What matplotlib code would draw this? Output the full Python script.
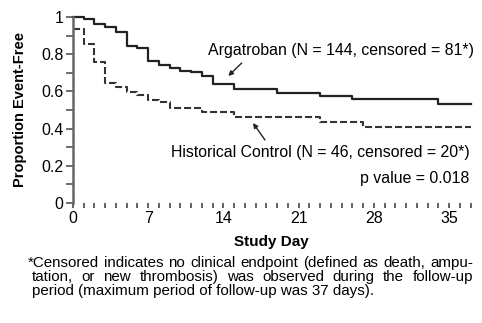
import matplotlib
matplotlib.use("Agg")
import matplotlib.pyplot as plt
from matplotlib.ticker import MultipleLocator, FixedLocator, FixedFormatter

plt.rcParams['font.family'] = ['Liberation Sans', 'DejaVu Sans']

# Kaplan-Meier style step curves (day, proportion event-free)
arg_days = [0, 1, 2, 3, 4, 5, 6, 7, 8, 9, 10, 11, 12, 13, 15, 19, 23, 26, 34, 37]
arg_surv = [1.0, 0.988, 0.962, 0.944, 0.921, 0.846, 0.832, 0.763, 0.742, 0.724,
            0.71, 0.703, 0.683, 0.638, 0.611, 0.59, 0.577, 0.559, 0.532, 0.532]

hist_days = [0, 1, 2, 3, 4, 5, 6, 7, 8, 9, 12, 15, 23, 27, 37]
hist_surv = [0.934, 0.853, 0.76, 0.647, 0.622, 0.595, 0.578, 0.556, 0.545, 0.51,
             0.49, 0.46, 0.437, 0.407, 0.407]

x_ticks = [0, 7, 14, 21, 28, 35]
y_ticks = [0, 0.2, 0.4, 0.6, 0.8, 1.0]
y_labels = ["0", "0.2", "0.4", "0.6", "0.8", "1"]

arg_label = "Argatroban (N = 144, censored = 81*)"
hist_label = "Historical Control (N = 46, censored = 20*)"
p_label = "p value = 0.018"
footnote = ["*Censored indicates no clinical endpoint (defined as death, ampu-",
            "tation, or new thrombosis) was observed during the follow-up",
            "period (maximum period of follow-up was 37 days)."]

W, H = 482, 323
fig = plt.figure(figsize=(W / 100, H / 100), dpi=100)
ax = fig.add_axes([73 / W, 1 - 203 / H, (470.7 - 73) / W, 186 / H])

ax.step(arg_days, arg_surv, where='post', color='#222222', lw=1.6, clip_on=False)
ax.step(hist_days, hist_surv, where='post', color='#333333', lw=1.5,
        linestyle=(0, (3.4, 1.4)), clip_on=False)

ax.set_xlim(0, 37)
ax.set_ylim(0, 1)
for s in ['top', 'right', 'bottom']:
    ax.spines[s].set_visible(False)
ax.spines['left'].set_color('#666666')
ax.spines['left'].set_linewidth(1.8)

ax.xaxis.set_major_locator(FixedLocator(x_ticks))
ax.xaxis.set_minor_locator(MultipleLocator(1))
ax.yaxis.set_major_locator(FixedLocator(y_ticks))
ax.yaxis.set_major_formatter(FixedFormatter(y_labels))
ax.yaxis.set_minor_locator(MultipleLocator(0.1))
ax.tick_params(axis='x', which='both', length=3.5, width=1.3, color='#555555',
               labelsize=11.5, pad=2)
ax.tick_params(axis='y', which='both', length=5, width=1.2, color='#555555',
               labelsize=11.5, pad=2)

# axis titles
fig.text(271 / W, 1 - 242 / H, "Study Day", fontsize=11, fontweight='bold',
         ha='center', va='center')
fig.text(20 / W, 1 - 110 / H, "Proportion Event-Free", fontsize=10.5,
         fontweight='bold', rotation=90, ha='center', va='center')

# curve labels with arrows
ap = dict(arrowstyle='-|>', lw=1.0, color='#222222', mutation_scale=7,
          shrinkA=0, shrinkB=0)
fig.text(208 / W, 1 - 50 / H, arg_label, fontsize=11.4, ha='left', va='center')
ax.annotate("", xy=(228.3, H - 76), xycoords='figure pixels',
            xytext=(241.7, H - 63), textcoords='figure pixels', arrowprops=ap)
fig.text(170.7 / W, 1 - 152 / H, hist_label, fontsize=11.4, ha='left', va='center')
ax.annotate("", xy=(253, H - 123), xycoords='figure pixels',
            xytext=(265, H - 140), textcoords='figure pixels', arrowprops=ap)
fig.text(469 / W, 1 - 178 / H, p_label, fontsize=11.4, ha='right', va='center')

# justified footnote
renderer = fig.canvas.get_renderer()
fn_size = 10.9


def put_line(line, x0, x1, y, justify):
    if not justify:
        fig.text(x0 / W, 1 - y / H, line, fontsize=fn_size, va='baseline')
        return
    words = line.split()
    texts = [fig.text(0, 1 - y / H, w, fontsize=fn_size, va='baseline') for w in words]
    widths = [t.get_window_extent(renderer).width for t in texts]
    gap = (x1 - x0 - sum(widths)) / (len(words) - 1)
    x = x0
    for t, w in zip(texts, widths):
        t.set_x(x / W)
        x += w + gap


put_line(footnote[0], 28, 473, 267, True)
put_line(footnote[1], 32, 473, 281, True)
put_line(footnote[2], 32, 473, 295, False)

fig.savefig("out.png", dpi=100)
